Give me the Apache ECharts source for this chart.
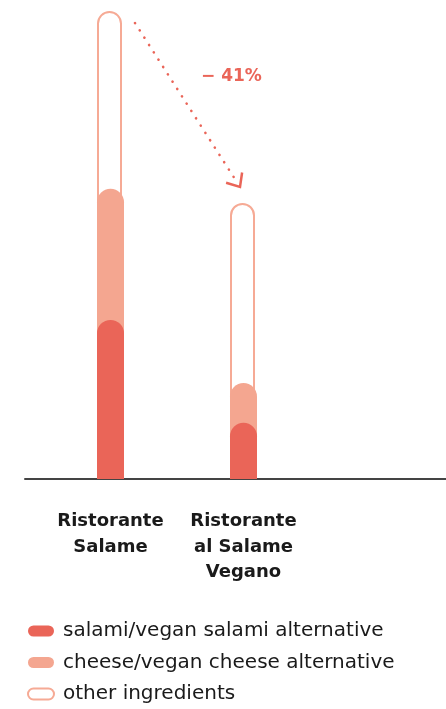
<!DOCTYPE html>
<html>
<head>
<meta charset="utf-8">
<script src="https://cdn.jsdelivr.net/npm/echarts@6/dist/echarts.min.js"></script>
<style>
  html, body { margin: 0; padding: 0; background: #fff; }
  #chart { width: 446px; height: 709px; }
</style>
</head>
<body>
<div id="chart"></div>
<script>
// Ingredient breakdown of the two restaurant dishes (relative units)
const categories = ['Ristorante\nSalame', 'Ristorante\nal Salame\nVegano'];
const seriesNames = ['salami/vegan salami alternative', 'cheese/vegan cheese alternative', 'other ingredients'];
const salami = [34, 12];
const cheese = [28, 8.5];
const other = [38, 38.5];
const changeLabel = '− 41%';

const C_SALAMI = '#EA6558';
const C_CHEESE = '#F4A690';
const C_OTHER = '#F6AA95';
const FONT = '"DejaVu Sans", "Noto Sans", sans-serif';

// Bars are overlaid (not stacked) so each rounded cap sits over the layer below
const cumCheese = salami.map((v, i) => v + cheese[i]);
const totals = cumCheese.map((v, i) => v + other[i]);

// Pill-shaped legend marker
const pill = 'path://M5.5,0L20.5,0A5.5,5.5,0,0,1,20.5,11L5.5,11A5.5,5.5,0,0,1,5.5,0Z';

const chart = echarts.init(document.getElementById('chart'), null, { renderer: 'canvas' });

chart.setOption({
  animation: false,
  backgroundColor: '#fff',
  grid: [
    { left: 25, right: 0, top: 11, bottom: 230 },
    { left: 44, width: 266, top: 11, bottom: 230 }
  ],
  xAxis: [
    {
      gridIndex: 0, type: 'value', min: 0, max: 1,
      axisLine: { show: true, onZero: false, lineStyle: { color: '#444', width: 2 } },
      axisTick: { show: false }, axisLabel: { show: false }, splitLine: { show: false }
    },
    {
      gridIndex: 1, type: 'category', data: categories,
      axisLine: { show: false }, axisTick: { show: false },
      axisLabel: {
        interval: 0, margin: 30, color: '#1a1a1a', fontFamily: FONT, fontWeight: 'bold',
        fontSize: 18, lineHeight: 25.5, align: 'center'
      }
    }
  ],
  yAxis: [
    { gridIndex: 0, type: 'value', min: 0, max: 1, show: false },
    { gridIndex: 1, type: 'value', min: 0, max: 100, show: false }
  ],
  legend: {
    orient: 'vertical', left: 27, top: 620, padding: 0,
    itemWidth: 26, itemHeight: 11, itemGap: 9.5,
    textStyle: { fontFamily: FONT, fontSize: 20, color: '#1a1a1a', lineHeight: 22, padding: [0, 0, 0, 4] },
    data: [
      { name: seriesNames[0], icon: pill, itemStyle: { color: C_SALAMI, borderWidth: 0 } },
      { name: seriesNames[1], icon: pill, itemStyle: { color: C_CHEESE, borderWidth: 0 } },
      { name: seriesNames[2], icon: pill, itemStyle: { color: '#fff', borderColor: C_OTHER, borderWidth: 2 } }
    ]
  },
  series: [
    {
      name: seriesNames[2], type: 'bar', xAxisIndex: 1, yAxisIndex: 1,
      data: totals, barWidth: 25, barGap: '-100%',
      itemStyle: { color: '#fff', borderColor: C_OTHER, borderWidth: 2, borderRadius: [12.5, 12.5, 0, 0] }
    },
    {
      name: seriesNames[1], type: 'bar', xAxisIndex: 1, yAxisIndex: 1,
      data: cumCheese, barWidth: 27, barGap: '-100%',
      itemStyle: { color: C_CHEESE, borderRadius: [13.5, 13.5, 0, 0] }
    },
    {
      name: seriesNames[0], type: 'bar', xAxisIndex: 1, yAxisIndex: 1,
      data: salami, barWidth: 27, barGap: '-100%',
      itemStyle: { color: C_SALAMI, borderRadius: [13.5, 13.5, 0, 0] }
    }
  ]
});

// Dotted arrow from the first bar's top down to the second bar's top
const p0 = chart.convertToPixel({ gridIndex: 1 }, [0, totals[0]]);
const p1 = chart.convertToPixel({ gridIndex: 1 }, [1, totals[1]]);
const start = [p0[0] + 24.5, p0[1] + 12];
const tip = [p1[0] - 3.5, p1[1] - 16];
const dx = tip[0] - start[0], dy = tip[1] - start[1];
const len = Math.sqrt(dx * dx + dy * dy);
const ux = dx / len, uy = dy / len;
const lineEnd = [tip[0] - ux * 10, tip[1] - uy * 10];
const backAng = Math.atan2(-uy, -ux);
const armLen = 14.5, spread = 41 * Math.PI / 180;
const arm1 = [tip[0] + armLen * Math.cos(backAng - spread), tip[1] + armLen * Math.sin(backAng - spread)];
const arm2 = [tip[0] + armLen * Math.cos(backAng + spread), tip[1] + armLen * Math.sin(backAng + spread)];

chart.setOption({
  graphic: [
    {
      type: 'line',
      shape: { x1: start[0], y1: start[1], x2: lineEnd[0], y2: lineEnd[1] },
      style: { stroke: C_SALAMI, lineWidth: 2.6, lineCap: 'round', lineDash: [0.1, 8.6] }
    },
    {
      type: 'polyline',
      shape: { points: [arm1, tip, arm2] },
      style: { stroke: C_SALAMI, lineWidth: 2.5, fill: null, lineJoin: 'miter', lineCap: 'butt' }
    },
    {
      type: 'text', left: 201, top: 68,
      style: { text: changeLabel, fill: C_SALAMI, font: 'bold 17px ' + FONT }
    }
  ]
});
</script>
</body>
</html>
